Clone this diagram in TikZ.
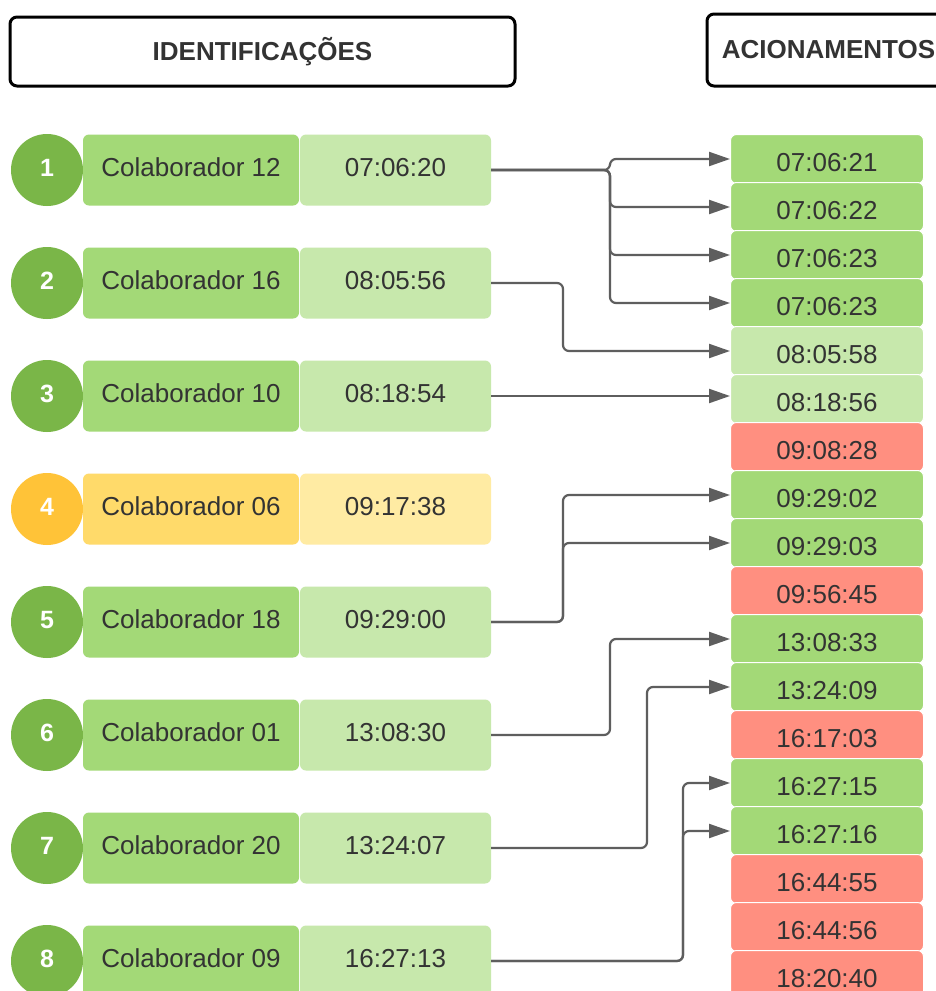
\documentclass[tikz,border=0pt]{standalone}
\usepackage{fontspec}
\setmainfont{Liberation Sans}
\usetikzlibrary{arrows.meta}
\definecolor{gcirc}{HTML}{7AB648}
\definecolor{gname}{HTML}{A3D977}
\definecolor{gtime}{HTML}{C7E8AC}
\definecolor{ycirc}{HTML}{FFC338}
\definecolor{yname}{HTML}{FFDA6A}
\definecolor{ytime}{HTML}{FFEBA3}
\definecolor{rbox}{HTML}{FF8F80}
\definecolor{txtc}{HTML}{333333}
\definecolor{linec}{HTML}{5E5E5E}
\tikzset{
  hdr/.style={draw=black, line width=3pt, rounded corners=7pt, font=\fontsize{26}{30}\selectfont\bfseries, text=txtc, inner sep=0pt},
  num/.style={circle, minimum size=72pt, inner sep=0pt, text height=18pt, text depth=6pt, font=\fontsize{25}{30}\selectfont\bfseries, text=white},
  namebox/.style={rounded corners=6pt, minimum width=216pt, minimum height=71pt, inner sep=0pt, text height=19pt, text depth=6pt, font=\fontsize{26}{30}\selectfont, text=txtc},
  timebox/.style={rounded corners=6pt, minimum width=191pt, minimum height=71pt, inner sep=0pt, text height=19pt, text depth=6pt, font=\fontsize{26}{30}\selectfont, text=txtc},
  actbox/.style={rounded corners=6pt, draw=white, line width=1pt, minimum width=193pt, minimum height=49pt, inner sep=0pt, text height=25pt, text depth=0pt, font=\fontsize{26}{30}\selectfont, text=txtc},
  conn/.style={draw=linec, line width=2.2pt, rounded corners=6pt, -{Triangle[length=21pt,width=14pt]}}
}
\begin{document}
\begin{tikzpicture}[x=1pt,y=-1pt]
\useasboundingbox (0,0) rectangle (936,991);
\clip (0,0) rectangle (936,991);
\fill[white] (0,0) rectangle (936,991);
% headers
\node[hdr, minimum width=505pt, minimum height=69pt] (h1) at (262.5,51.5) {IDENTIFICAÇÕES};
\node[hdr, minimum width=243pt, minimum height=72pt] (h2) at (828.5,50) {ACIONAMENTOS};
% left rows
\foreach \k/\nm/\tm/\cc/\cn/\ct in {
  1/Colaborador 12/07:06:20/gcirc/gname/gtime,
  2/Colaborador 16/08:05:56/gcirc/gname/gtime,
  3/Colaborador 10/08:18:54/gcirc/gname/gtime,
  4/Colaborador 06/09:17:38/ycirc/yname/ytime,
  5/Colaborador 18/09:29:00/gcirc/gname/gtime,
  6/Colaborador 01/13:08:30/gcirc/gname/gtime,
  7/Colaborador 20/13:24:07/gcirc/gname/gtime,
  8/Colaborador 09/16:27:13/gcirc/gname/gtime}{
  \pgfmathsetmacro{\yy}{170+113*(\k-1)}
  \node[num, fill=\cc] (c\k) at (47,\yy) {\k};
  \node[namebox, fill=\cn] (n\k) at (191,\yy) {\nm};
  \node[timebox, fill=\ct] (t\k) at (395.5,\yy) {\tm};
}
% right column
\foreach \i/\tm/\cf in {
  1/07:06:21/gname, 2/07:06:22/gname, 3/07:06:23/gname, 4/07:06:23/gname,
  5/08:05:58/gtime, 6/08:18:56/gtime, 7/09:08:28/rbox, 8/09:29:02/gname,
  9/09:29:03/gname, 10/09:56:45/rbox, 11/13:08:33/gname, 12/13:24:09/gname,
  13/16:17:03/rbox, 14/16:27:15/gname, 15/16:27:16/gname, 16/16:44:55/rbox,
  17/16:44:56/rbox, 18/18:20:40/rbox}{
  \pgfmathsetmacro{\yy}{159+48*(\i-1)}
  \node[actbox, fill=\cf] (r\i) at (827,\yy) {\tm};
}
% junction coordinates
\coordinate (j1) at (610,170);
\coordinate (j2) at (563,283);
\coordinate (j5) at (563,622);
\coordinate (j6) at (610,735);
\coordinate (j7) at (647,848);
\coordinate (j8) at (683,961);
% connectors
\foreach \r in {1,2,3,4}{ \draw[conn] (t1.east) -- (j1) |- (r\r.west); }
\draw[conn] (t2.east) -- (j2) |- (r5.west);
\draw[conn] (t3.east) -- (t3.east -| r6.west);
\foreach \r in {8,9}{ \draw[conn] (t5.east) -- (j5) |- (r\r.west); }
\draw[conn] (t6.east) -- (j6) |- (r11.west);
\draw[conn] (t7.east) -- (j7) |- (r12.west);
\foreach \r in {14,15}{ \draw[conn] (t8.east) -- (j8) |- (r\r.west); }
\end{tikzpicture}
\end{document}
